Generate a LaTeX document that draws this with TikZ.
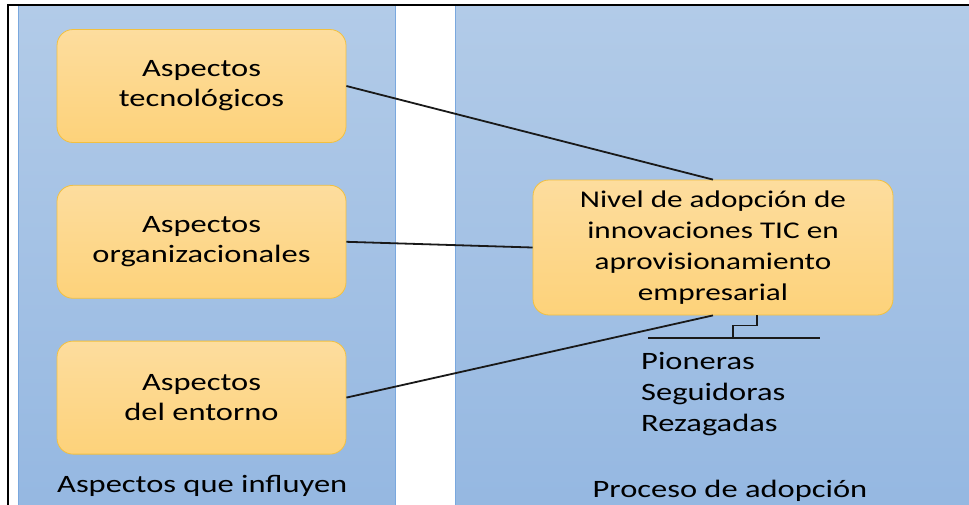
\documentclass[tikz,border=0pt]{standalone}
\usepackage{fontspec}
\setmainfont[FakeStretch=1.3]{Carlito}
\usepackage{tikz}
\usetikzlibrary{positioning}
\definecolor{paneltop}{RGB}{178,203,232}
\definecolor{panelbottom}{RGB}{148,183,225}
\definecolor{panelline}{RGB}{122,168,222}
\definecolor{boxtop}{RGB}{253,221,158}
\definecolor{boxbottom}{RGB}{253,210,122}
\definecolor{boxline}{RGB}{242,192,64}
\tikzset{
    panel/.style={rectangle, draw=panelline, line width=0.8pt, top color=paneltop, bottom color=panelbottom, anchor=north west, inner sep=0pt},
    factor box/.style={rectangle, rounded corners=16pt, draw=boxline, line width=0.8pt, top color=boxtop, bottom color=boxbottom, minimum width=289pt, minimum height=113pt, align=center, inner sep=0pt, font=\fontsize{25}{30}\selectfont},
    link line/.style={line width=1.8pt, black!90},
    label text/.style={inner sep=0pt, font=\fontsize{25}{31}\selectfont}
}
\begin{document}
\begin{tikzpicture}[x=1pt, y=-1pt, node distance=42pt]
\useasboundingbox (0,0) rectangle (969,504);
\clip (0,0) rectangle (969,504);
% Background panels
\node[panel, minimum width=377pt, minimum height=520pt] (influyen) at (18,5) {};
\node[panel, minimum width=530pt, minimum height=520pt] (proceso) at (455,5) {};
\draw[line width=1.8pt] (8,5) rectangle (990,520);

% Factor boxes
\node[factor box] (tec) at (201.5,86) {Aspectos\\tecnológicos};
\node[factor box, below=of tec] (org) {Aspectos\\organizacionales};
\node[factor box, below=of org] (ent) {Aspectos\\del entorno};
\node[factor box, minimum width=360pt, minimum height=135pt, font=\fontsize{24}{31}\selectfont] (nivel) at (713,247.5) {Nivel de adopción de\\innovaciones TIC en\\aprovisionamiento\\empresarial};

% Labels
\node[label text, anchor=base west] (influyen label) at (57,492) {Aspectos que influyen};
\node[label text, anchor=base] (proceso label) at (730,497) {Proceso de adopción};
\node[label text, align=left, anchor=north west] (tipos) at (641,352) {Pioneras\\Seguidoras\\Rezagadas};

% Connectors
\draw[link line] (tec.east) -- (nivel.north);
\draw[link line] (org.east) -- (nivel.west);
\draw[link line] (ent.east) -- (nivel.south);

% Bracket
\coordinate[right=44pt of nivel.south] (brace top);
\coordinate (split mid) at (733,338);
\coordinate (split left) at (648,338);
\coordinate (split right) at (820,338);
\draw[link line] (brace top) -- ++(0,10) -| (split mid);
\draw[link line] (split left) -- (split right);
\end{tikzpicture}
\end{document}
